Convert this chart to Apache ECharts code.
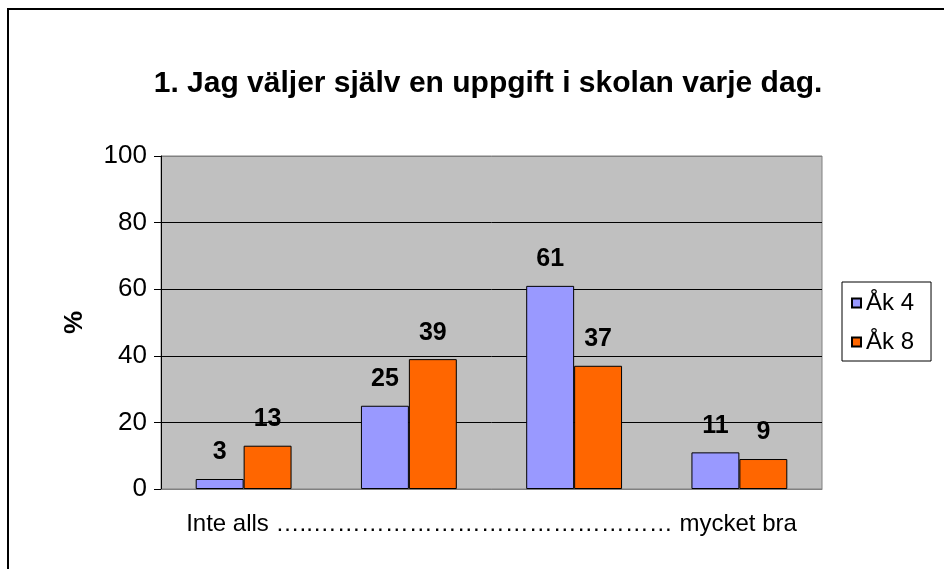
<!DOCTYPE html>
<html>
<head>
<meta charset="utf-8">
<script src="https://cdn.jsdelivr.net/npm/echarts@6/dist/echarts.min.js"></script>
<style>
html,body{margin:0;padding:0;background:#fff;}
#chart{width:944px;height:569px;}
</style>
</head>
<body>
<div id="chart"></div>
<script>
const titleText = '1. Jag väljer själv en uppgift i skolan varje dag.';
const categories = ['1', '2', '3', '4'];
const seriesNames = ['Åk 4', 'Åk 8'];
const ak4Values = [3, 25, 61, 11];
const ak8Values = [13, 39, 37, 9];
const yTicks = [0, 20, 40, 60, 80, 100];
const xAxisTitle = 'Inte alls …..……………………………………… mycket bra';
const yAxisTitle = '%';

const FONT = '"Liberation Sans", Arial, sans-serif';
const chart = echarts.init(document.getElementById('chart'), null, {renderer: 'canvas'});
const option = {
  backgroundColor: '#fff',
  animation: false,
  title: {
    text: titleText,
    left: 483,
    textAlign: 'center',
    top: 64,
    textStyle: {fontFamily: FONT, fontSize: 30, fontWeight: 'bold', color: '#000'}
  },
  graphic: [{
    type: 'rect',
    shape: {x: 8, y: 9, width: 960, height: 600},
    style: {fill: 'none', stroke: '#000', lineWidth: 2},
    silent: true
  }],
  legend: {
    orient: 'vertical',
    left: 842,
    top: 282,
    data: seriesNames,
    icon: 'rect',
    itemWidth: 9,
    itemHeight: 9,
    itemGap: 15,
    padding: [9, 17, 7, 9],
    borderColor: '#000',
    borderWidth: 1,
    borderRadius: 0,
    backgroundColor: '#fff',
    textStyle: {fontFamily: FONT, fontSize: 24, color: '#000'}
  },
  grid: {
    left: 161, top: 156, right: 122, bottom: 80,
    show: true, backgroundColor: '#C0C0C0', borderColor: '#808080', borderWidth: 1,
    containLabel: false
  },
  xAxis: {
    type: 'category',
    data: categories,
    axisLine: {show: true, lineStyle: {color: '#808080', width: 1}},
    axisTick: {show: false},
    axisLabel: {show: false},
    name: xAxisTitle,
    nameLocation: 'middle',
    nameGap: 23,
    nameTextStyle: {fontFamily: FONT, fontSize: 24, color: '#000'}
  },
  yAxis: {
    type: 'value',
    min: yTicks[0],
    max: yTicks[yTicks.length - 1],
    interval: yTicks[1] - yTicks[0],
    axisLine: {show: true, lineStyle: {color: '#000', width: 1}},
    axisTick: {show: true, inside: false, length: 7, lineStyle: {color: '#000'}},
    axisLabel: {fontFamily: FONT, fontSize: 26, color: '#000', margin: 14},
    splitLine: {show: true, lineStyle: {color: ['#808080', '#000', '#000', '#000', '#000', '#808080'], width: 1}},
    name: yAxisTitle,
    nameLocation: 'middle',
    nameGap: 73,
    nameRotate: 90,
    nameTextStyle: {fontFamily: FONT, fontSize: 26, fontWeight: 'bold', color: '#000'}
  },
  series: [
    {
      name: seriesNames[0], type: 'bar', data: ak4Values,
      barGap: '0%', barCategoryGap: '42%',
      itemStyle: {color: '#9999FF', borderColor: '#000', borderWidth: 1},
      label: {show: true, position: 'top', distance: 14, fontFamily: FONT, fontSize: 25, fontWeight: 'bold', color: '#000'}
    },
    {
      name: seriesNames[1], type: 'bar', data: ak8Values,
      barGap: '0%', barCategoryGap: '42%',
      itemStyle: {color: '#FF6600', borderColor: '#000', borderWidth: 1},
      label: {show: true, position: 'top', distance: 14, fontFamily: FONT, fontSize: 25, fontWeight: 'bold', color: '#000'}
    }
  ]
};
chart.setOption(option);
</script>
</body>
</html>
